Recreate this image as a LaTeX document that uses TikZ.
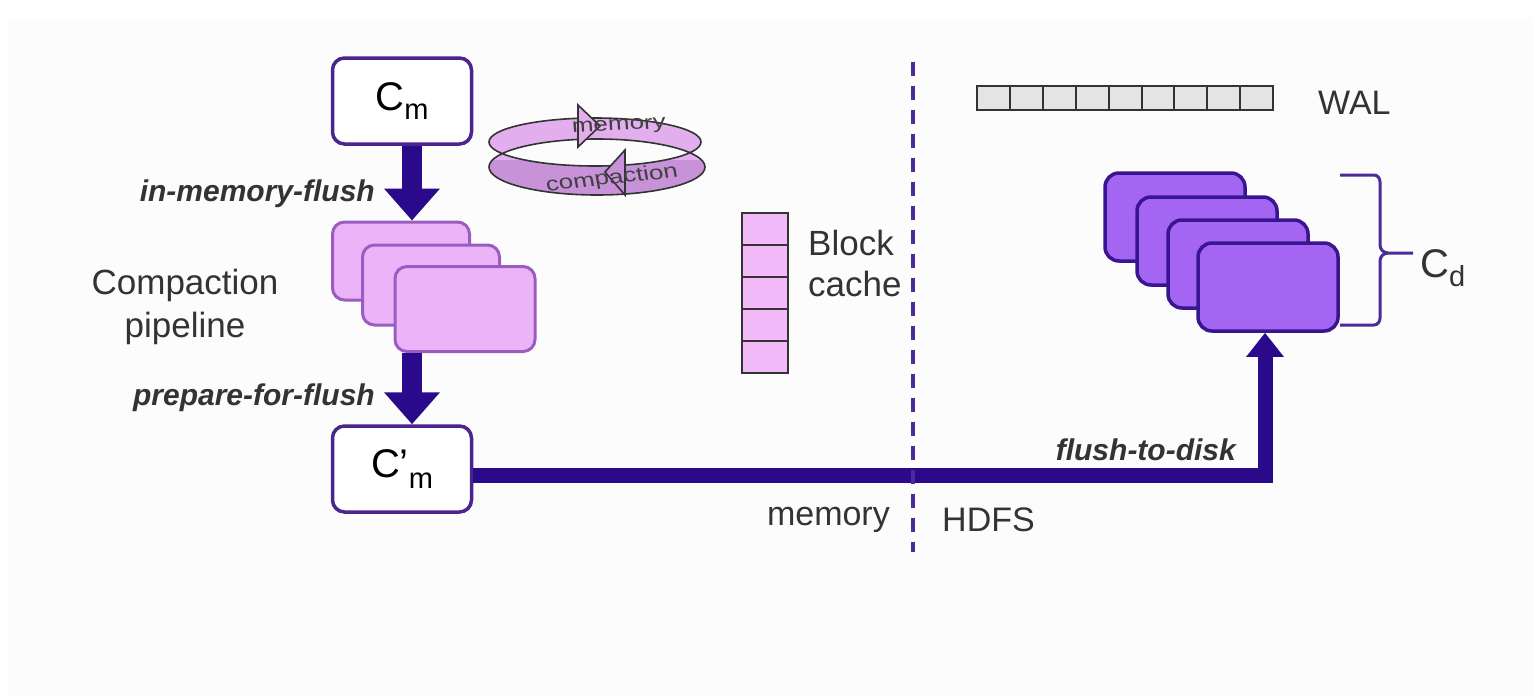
\documentclass[tikz,border=0pt]{standalone}
\usepackage{fontspec}
\setmainfont{Liberation Sans}
\usetikzlibrary{arrows.meta}
\definecolor{arrowc}{HTML}{2A0A8A}
\definecolor{boxstroke}{HTML}{4A2590}
\definecolor{pipefill}{HTML}{ECB4F8}
\definecolor{pipestroke}{HTML}{9A5CC0}
\definecolor{dfill}{HTML}{A466F2}
\definecolor{dstroke}{HTML}{3A1590}
\definecolor{cachefill}{HTML}{F2BAF8}
\definecolor{walfill}{HTML}{E4E4E4}
\definecolor{ringlight}{HTML}{E2AEEE}
\definecolor{ringdark}{HTML}{C892D8}
\definecolor{txt}{HTML}{333333}
\definecolor{dashc}{HTML}{4B2A9A}
\newcommand{\fs}[1]{\fontsize{#1}{\numexpr #1*6/5\relax}\selectfont}
\newcommand{\fsb}[2]{\fontsize{#1}{#2}\selectfont}
\tikzset{
  membox/.style={draw=boxstroke, line width=3.5pt, fill=white, rounded corners=12pt, minimum width=139pt, minimum height=86pt, inner sep=0pt},
  pipebox/.style={draw=pipestroke, line width=3pt, fill=pipefill, rounded corners=12pt, inner sep=0pt},
  diskbox/.style={draw=dstroke, line width=3.5pt, fill=dfill, rounded corners=14pt, minimum width=140pt, minimum height=88pt, inner sep=0pt},
  fatarrow/.style={draw=arrowc, line width=20pt, -{Triangle[width=54pt,length=32pt]}},
  lbl/.style={text=txt, inner sep=0pt},
  oplbl/.style={text=txt, inner sep=0pt, font=\fs{30}\bfseries\itshape},
  ringlbl/.style={text=black!75, inner sep=0pt, font=\fsb{20}{20}, xscale=1.3},
  cell/.style={draw=black!80, line width=2pt}
}
\begin{document}
\begin{tikzpicture}[x=1pt,y=-1pt]
\useasboundingbox (0,0) rectangle (1533,696);
\fill[white] (0,0) rectangle (1533,696);
\fill[black!1] (8,18) rectangle (1533,696);

% memory side boxes
\node[membox] (Cm) at (402,101) {\fs{40}C\raisebox{-9pt}{\fs{29}m}};
\node[pipebox, minimum width=137pt, minimum height=78pt] (p1) at (401,261) {};
\node[pipebox, minimum width=137pt, minimum height=80pt] (p2) at (431,285) {};
\node[pipebox, minimum width=140pt, minimum height=85pt] (p3) at (465,309) {};
\node[membox] (Cmp) at (402,469) {\fs{40}C'\raisebox{-11pt}{\fs{29}m}};

% disk files
\node[diskbox] (d1) at (1175,217) {};
\node[diskbox] (d2) at (1207,241) {};
\node[diskbox] (d3) at (1238,264) {};
\node[diskbox] (d4) at (1268,287) {};

% arrows
\draw[fatarrow] ([xshift=10pt]Cm.south) -- ([xshift=11pt]p1.north);
\path (p3.south -| Cmp.north) ++(10,0) coordinate (a2s);
\draw[fatarrow] (a2s) -- (a2s |- Cmp.north);
\draw[draw=arrowc, line width=15pt, -{Triangle[width=36pt,length=24pt]}] ([yshift=-6pt]Cmp.east) -| ([xshift=-3pt]d4.south);

% labels
\node[oplbl, anchor=east] (l1) at (375,194) {in-memory-flush};
\node[oplbl, anchor=east] (l2) at (375,398) {prepare-for-flush};
\node[oplbl, anchor=east] (l3) at (1236,450) {flush-to-disk};
\node[lbl, align=center, font=\fsb{35}{43}] (cp) at (185,307) {Compaction\\pipeline};

% ring
\begin{scope}
\fill[ringlight, even odd rule] (595,142) ellipse [x radius=106pt, y radius=24pt] (597,167) ellipse [x radius=108pt, y radius=28pt];
\clip (480,160) rectangle (720,205);
\fill[ringdark, even odd rule] (595,142) ellipse [x radius=106pt, y radius=24pt] (597,167) ellipse [x radius=108pt, y radius=28pt];
\end{scope}
\draw[black!80, line width=1.6pt] (595,142) ellipse [x radius=106pt, y radius=24pt] (597,167) ellipse [x radius=108pt, y radius=28pt];
\draw[black!80, line width=1.6pt, fill=ringlight] (578,105) -- (600,126) -- (578,147) -- cycle;
\draw[black!80, line width=1.6pt, fill=ringdark] (625,150) -- (605,172) -- (625,195) -- cycle;
\node[ringlbl, rotate=3] (rm) at (619,127) {memory};
\node[ringlbl, rotate=8] (rc) at (612,179) {compaction};

% block cache
\foreach \i in {0,...,4} {
  \draw[cell, fill=cachefill] (742,213+32*\i) rectangle (788,245+32*\i);
}
\node[lbl, anchor=west, align=left, font=\fsb{35}{41}] (bc) at (808,263) {Block\\cache};

% divider
\draw[dashc, line width=4pt, dash pattern=on 14pt off 10pt] (913,62) coordinate (dtop) -- (913,552) coordinate (dbot);
\node[lbl, anchor=east, font=\fs{34}] (mem) at (890,520) {memory};
\node[lbl, anchor=west, font=\fs{34}] (hdfs) at (942,520) {HDFS};

% WAL
\foreach \i in {0,...,8} {
  \draw[cell, fill=walfill] (977+32.9*\i,86) rectangle (1009.9+32.9*\i,110);
}
\node[lbl, anchor=west, font=\fs{34}] (wal) at (1318,103) {WAL};

% brace
\draw[dashc, line width=3pt, line join=round] (1340,175) -- (1374,175) to[out=0,in=90] (1380,182) -- (1380,245) to[out=-90,in=180] (1388,253) -- (1413,253);
\draw[dashc, line width=3pt, line join=round] (1388,253) to[out=180,in=90] (1380,261) -- (1380,318) to[out=-90,in=0] (1374,325) -- (1340,325);
\node[lbl, anchor=west] (cd) at (1420,268) {\fs{40}C\raisebox{-9pt}{\fs{29}d}};
\end{tikzpicture}
\end{document}
